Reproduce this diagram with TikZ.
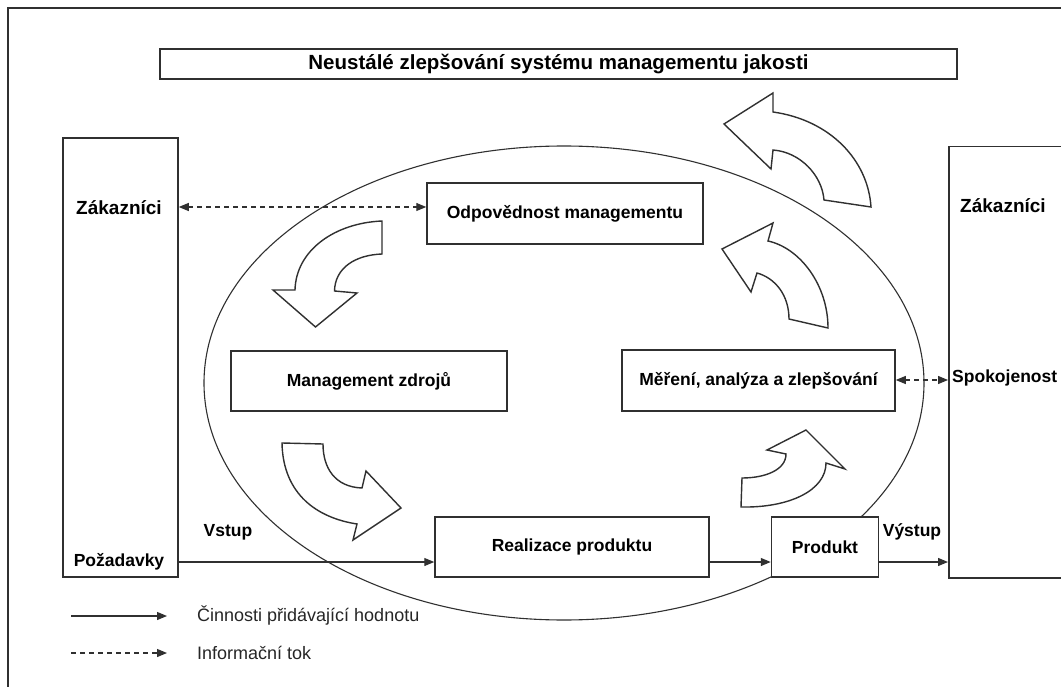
\documentclass[tikz,border=0pt]{standalone}
\usepackage{fontspec}
\setmainfont{Liberation Sans}
\usetikzlibrary{arrows.meta,shapes.geometric}
\definecolor{linegray}{HTML}{303030}
\begin{document}
\begin{tikzpicture}[x=1pt,y=-1pt,
  box/.style={draw=linegray, line width=1.5pt, fill=white, inner sep=0pt},
  lbl/.style={inner sep=0pt, font=\fontsize{17.5}{20}\selectfont\bfseries},
  legendtext/.style={inner sep=0pt, anchor=west, text=black!85, font=\fontsize{18}{21}\selectfont},
  flow/.style={line width=1.2pt, draw=linegray, -{Triangle[length=10pt,width=8pt]}},
  info/.style={line width=1.2pt, draw=linegray, dash pattern=on 5pt off 4pt,
    {Triangle[length=10pt,width=8pt]}-{Triangle[length=10pt,width=8pt]}},
  infoone/.style={line width=1.2pt, draw=linegray, dash pattern=on 5pt off 4pt,
    -{Triangle[length=10pt,width=8pt]}},
  blockarrow/.style={draw=linegray, line width=1.4pt, fill=white, line join=miter}]

\useasboundingbox (0,0) rectangle (1061,687);
\clip (0,0) rectangle (1061,687);
\fill[white] (0,0) rectangle (1061,687);

% page frame (open to the right and bottom)
\draw[linegray, line width=1.5pt] (8,700) -- (8,8) -- (1075,8);

% title bar
\node[box, minimum width=797pt, minimum height=30pt] (title) at (558.5,64)
  {\fontsize{20.5}{23}\selectfont\bfseries Neustálé zlepšování systému managementu jakosti};

% the process cycle
\node[ellipse, draw=linegray, line width=1.1pt, minimum width=720pt, minimum height=474pt, inner sep=0pt] (cyc) at (564,383) {};

% customer columns
\node[box, minimum width=115pt, minimum height=439pt] (custL) at (120.5,357.5) {};
\node[lbl, font=\fontsize{19}{21}\selectfont\bfseries] (zakL) at (119,208) {Zákazníci};
\node[lbl] (pozad) at (119,562) {Požadavky};

\node[box, minimum width=130pt, minimum height=431pt, anchor=north west] (custR) at (948,146) {};
\node[lbl, anchor=west, font=\fontsize{19}{21}\selectfont\bfseries] (zakR) at (960,206) {Zákazníci};
\node[lbl, anchor=west] (spok) at (952,378) {Spokojenost};

% process boxes
\node[box, minimum width=276pt, minimum height=61pt] (odp) at (565,213.5) {\fontsize{17.5}{20}\selectfont\bfseries Odpovědnost managementu};
\node[box, minimum width=276pt, minimum height=60pt] (zdroje) at (369,381) {\fontsize{17.5}{20}\selectfont\bfseries Management zdrojů};
\node[box, minimum width=273pt, minimum height=61pt] (mereni) at (758.5,380.5) {\fontsize{17.5}{20}\selectfont\bfseries Měření, analýza a zlepšování};
\node[box, minimum width=274pt, minimum height=60pt] (real) at (572,547) {\fontsize{17.5}{20}\selectfont\bfseries Realizace produktu};
\node[box, minimum width=107pt, minimum height=60pt] (prod) at (825,547) {\fontsize{17.5}{20}\selectfont\bfseries Produkt};

\node[lbl] (vstup) at (228,532) {Vstup};
\node[lbl] (vystup) at (912,532) {Výstup};

% value-adding flow
\draw[flow] (custL.east |- 0,562) -- (real.west |- 0,562);
\draw[flow] (real.east |- 0,562) -- (prod.west |- 0,562);
\draw[flow] (prod.east |- 0,562) -- (custR.west |- 0,562);

% information flow
\draw[info] (custL.east |- 0,207) -- (odp.west |- 0,207);
\draw[info] (mereni.east |- 0,380) -- (custR.west |- 0,380);

% curved block arrows
\draw[blockarrow] (724,124) -- (773,93) -- (773,112)
  .. controls (830,120) and (868,160) .. (871,207) -- (824,200)
  .. controls (822,175) and (800,152) .. (773,150) -- (771,169) -- cycle;
\draw[blockarrow] (722,249) -- (773,223) -- (768,241)
  .. controls (800,248) and (828,285) .. (828,328) -- (789,319)
  .. controls (789,295) and (775,278) .. (757,273) -- (751,292) -- cycle;
\draw[blockarrow] (382,221) -- (382,254)
  .. controls (355,255) and (335,268) .. (334.5,291) -- (357,293) -- (315.5,327)
  -- (273,290) -- (295,290)
  .. controls (296,250) and (335,223) .. (382,221) -- cycle;
\draw[blockarrow] (282,443) -- (323,444)
  .. controls (323,468) and (335,487) .. (362,488) -- (366,471) -- (401,508)
  -- (353,540) -- (357,524)
  .. controls (318,518) and (283,495) .. (282,443) -- cycle;
\draw[blockarrow] (742,478)
  .. controls (765,478) and (786,470) .. (786,454) -- (767,450) -- (806,430)
  -- (845,469) -- (826,463)
  .. controls (826,490) and (790,508) .. (741,507) -- cycle;

% legend
\coordinate (legA1) at (71,616);
\coordinate (legA2) at (167,616);
\coordinate (legB1) at (71,653);
\coordinate (legB2) at (167,653);
\draw[flow] (legA1) -- (legA2);
\draw[infoone] (legB1) -- (legB2);
\node[legendtext] (legAtext) at (197,615) {Činnosti přidávající hodnotu};
\node[legendtext] (legBtext) at (197,653) {Informační tok};
\end{tikzpicture}
\end{document}
